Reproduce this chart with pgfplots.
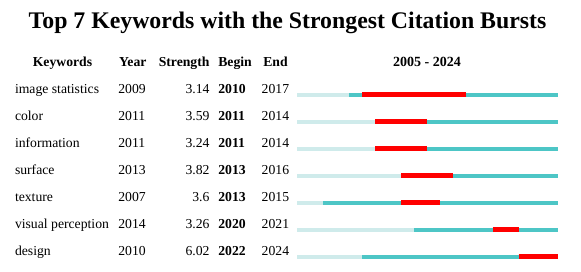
\documentclass[border=0pt]{standalone}
\usepackage{pgfplots}
\pgfplotsset{compat=1.18}
\usepackage{fontspec}
\setmainfont{Liberation Serif}
\definecolor{lightc}{HTML}{CFEBEB}
\definecolor{tealc}{HTML}{4DC6C6}
\definecolor{redc}{HTML}{FF0000}
\newcommand{\bodyfont}{\fontsize{13.7pt}{16pt}\selectfont}
\tikzset{t/.style={inner sep=0pt, outer sep=0pt, font=\bodyfont},
         tb/.style={inner sep=0pt, outer sep=0pt, font=\bodyfont\bfseries}}
\begin{document}
\begin{tikzpicture}
\useasboundingbox (0,0) rectangle (581pt,272pt);
\begin{axis}[at={(0pt,0pt)}, anchor=south west, scale only axis,
  width=581pt, height=272pt, xmin=0, xmax=581, ymin=0, ymax=272,
  y dir=reverse, hide axis, clip=false]
% title
\node[anchor=base, inner sep=0pt, font=\fontsize{23.8pt}{28pt}\selectfont\bfseries] at (axis cs:287.5,28.5) {Top 7 Keywords with the Strongest Citation Bursts};
% header
\node[tb, anchor=base] at (axis cs:62.5,66.5) {Keywords};
\node[tb, anchor=base] at (axis cs:132.8,66.5) {Year};
\node[tb, anchor=base east] at (axis cs:209.5,66.5) {Strength};
\node[tb, anchor=base west] at (axis cs:218.3,66.5) {Begin};
\node[tb, anchor=base west] at (axis cs:263.3,66.5) {End};
\node[anchor=base, inner sep=0pt, font=\fontsize{14pt}{16pt}\selectfont\bfseries] at (axis cs:427,66.5) {2005 - 2024};
% rows
\node[t, anchor=base west] at (axis cs:15,94) {image statistics};
\node[t, anchor=base west] at (axis cs:118.3,94) {2009};
\node[t, anchor=base east] at (axis cs:209.5,94) {3.14};
\node[tb, anchor=base west] at (axis cs:218.3,94) {2010};
\node[t, anchor=base west] at (axis cs:261.7,94) {2017};

\node[t, anchor=base west] at (axis cs:15,121) {color};
\node[t, anchor=base west] at (axis cs:118.3,121) {2011};
\node[t, anchor=base east] at (axis cs:209.5,121) {3.59};
\node[tb, anchor=base west] at (axis cs:218.3,121) {2011};
\node[t, anchor=base west] at (axis cs:261.7,121) {2014};

\node[t, anchor=base west] at (axis cs:15,148) {information};
\node[t, anchor=base west] at (axis cs:118.3,148) {2011};
\node[t, anchor=base east] at (axis cs:209.5,148) {3.24};
\node[tb, anchor=base west] at (axis cs:218.3,148) {2011};
\node[t, anchor=base west] at (axis cs:261.7,148) {2014};

\node[t, anchor=base west] at (axis cs:15,175) {surface};
\node[t, anchor=base west] at (axis cs:118.3,175) {2013};
\node[t, anchor=base east] at (axis cs:209.5,175) {3.82};
\node[tb, anchor=base west] at (axis cs:218.3,175) {2013};
\node[t, anchor=base west] at (axis cs:261.7,175) {2016};

\node[t, anchor=base west] at (axis cs:15,202) {texture};
\node[t, anchor=base west] at (axis cs:118.3,202) {2007};
\node[t, anchor=base east] at (axis cs:209.5,202) {3.6};
\node[tb, anchor=base west] at (axis cs:218.3,202) {2013};
\node[t, anchor=base west] at (axis cs:261.7,202) {2015};

\node[t, anchor=base west] at (axis cs:15,229) {visual perception};
\node[t, anchor=base west] at (axis cs:118.3,229) {2014};
\node[t, anchor=base east] at (axis cs:209.5,229) {3.26};
\node[tb, anchor=base west] at (axis cs:218.3,229) {2020};
\node[t, anchor=base west] at (axis cs:261.7,229) {2021};

\node[t, anchor=base west] at (axis cs:15,256) {design};
\node[t, anchor=base west] at (axis cs:118.3,256) {2010};
\node[t, anchor=base east] at (axis cs:209.5,256) {6.02};
\node[tb, anchor=base west] at (axis cs:218.3,256) {2022};
\node[t, anchor=base west] at (axis cs:261.7,256) {2024};
\end{axis}
\begin{axis}[at={(297pt,0pt)}, anchor=south west, scale only axis,
  width=260.7pt, height=272pt, xmin=2005, xmax=2025, ymin=0, ymax=272,
  y dir=reverse, hide axis, clip=false]
% light: 2005 -> year ; teal: year -> 2025 ; red: begin -> end+1
\addplot[lightc, line width=4pt] coordinates {(2005,95.3) (2009,95.3)};
\addplot[tealc, line width=4pt] coordinates {(2009,95.3) (2025,95.3)};
\addplot[redc, line width=5pt] coordinates {(2010,94.8) (2018,94.8)};

\addplot[lightc, line width=4pt] coordinates {(2005,122.3) (2011,122.3)};
\addplot[tealc, line width=4pt] coordinates {(2011,122.3) (2025,122.3)};
\addplot[redc, line width=5pt] coordinates {(2011,121.8) (2015,121.8)};

\addplot[lightc, line width=4pt] coordinates {(2005,149.3) (2011,149.3)};
\addplot[tealc, line width=4pt] coordinates {(2011,149.3) (2025,149.3)};
\addplot[redc, line width=5pt] coordinates {(2011,148.8) (2015,148.8)};

\addplot[lightc, line width=4pt] coordinates {(2005,176.3) (2013,176.3)};
\addplot[tealc, line width=4pt] coordinates {(2013,176.3) (2025,176.3)};
\addplot[redc, line width=5pt] coordinates {(2013,175.8) (2017,175.8)};

\addplot[lightc, line width=4pt] coordinates {(2005,203.3) (2007,203.3)};
\addplot[tealc, line width=4pt] coordinates {(2007,203.3) (2025,203.3)};
\addplot[redc, line width=5pt] coordinates {(2013,202.8) (2016,202.8)};

\addplot[lightc, line width=4pt] coordinates {(2005,230.3) (2014,230.3)};
\addplot[tealc, line width=4pt] coordinates {(2014,230.3) (2025,230.3)};
\addplot[redc, line width=5pt] coordinates {(2020,229.8) (2022,229.8)};

\addplot[lightc, line width=4pt] coordinates {(2005,257.3) (2010,257.3)};
\addplot[tealc, line width=4pt] coordinates {(2010,257.3) (2025,257.3)};
\addplot[redc, line width=5pt] coordinates {(2022,256.8) (2025,256.8)};
\end{axis}
\end{tikzpicture}
\end{document}
